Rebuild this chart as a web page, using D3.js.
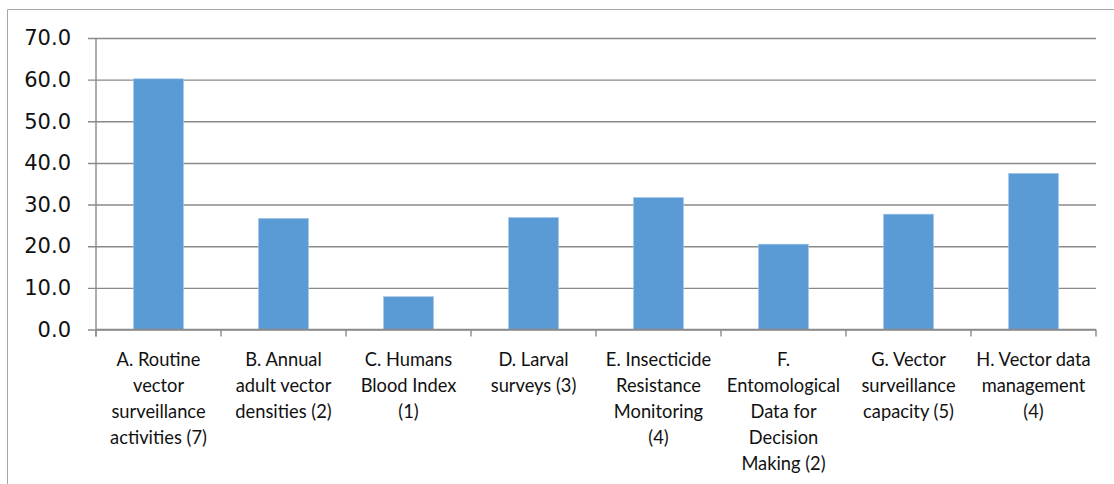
<!DOCTYPE html>
<html>
<head>
<meta charset="utf-8">
<script src="https://cdn.jsdelivr.net/npm/d3@7"></script>
<style>
  html, body { margin: 0; padding: 0; background: #fff; }
  svg { display: block; }
</style>
</head>
<body>
<svg id="chart" width="1114" height="484"></svg>
<script>
const categories = [
  "A. Routine\nvector\nsurveillance\nactivities (7)",
  "B. Annual\nadult vector\ndensities (2)",
  "C. Humans\nBlood Index\n(1)",
  "D. Larval\nsurveys (3)",
  "E. Insecticide\nResistance\nMonitoring\n(4)",
  "F.\nEntomological\nData for\nDecision\nMaking (2)",
  "G. Vector\nsurveillance\ncapacity (5)",
  "H. Vector data\nmanagement\n(4)"
];
const values = [60.2, 26.7, 7.9, 26.9, 31.7, 20.5, 27.7, 37.5];
const yTicks = [0, 10, 20, 30, 40, 50, 60, 70];

const svg = d3.select("#chart");
const W = 1114, H = 484;
const margin = { left: 96, right: 18, top: 38, bottom: 154.5 };
const plotW = W - margin.left - margin.right;
const plotH = H - margin.top - margin.bottom;

// outer frame (left + top)
svg.append("path")
  .attr("d", `M7.5,${H} L7.5,9.5 L${W},9.5`)
  .attr("fill", "none")
  .attr("stroke", "#a6a6a6")
  .attr("stroke-width", 1);

const g = svg.append("g").attr("transform", `translate(${margin.left},${margin.top})`);

const x = d3.scaleBand().domain(categories).range([0, plotW]).paddingInner(0.6).paddingOuter(0.3);
const y = d3.scaleLinear().domain([0, 70]).range([plotH, 0]);

// gridlines + y ticks
const yAxis = d3.axisLeft(y).tickValues(yTicks).tickSize(-plotW).tickSizeOuter(0).tickPadding(8)
  .tickFormat(d3.format(".1f"));
const ya = g.append("g").call(yAxis);
ya.select(".domain").remove();
ya.selectAll(".tick line")
  .attr("x1", -8)
  .attr("stroke", "#8a8a8a")
  .attr("stroke-width", 1.4);
ya.selectAll(".tick text")
  .attr("x", -25)
  .attr("font-family", "'DejaVu Sans', Verdana, sans-serif")
  .attr("font-size", 21)
  .attr("fill", "#111");

// y axis line
g.append("line")
  .attr("x1", 0).attr("x2", 0).attr("y1", y(70)).attr("y2", plotH + 7)
  .attr("stroke", "#8a8a8a").attr("stroke-width", 1.4);

// bars
g.selectAll("rect.bar").data(values).join("rect")
  .attr("class", "bar")
  .attr("x", (d, i) => x(categories[i]))
  .attr("width", x.bandwidth())
  .attr("y", d => y(d))
  .attr("height", d => y(0) - y(d))
  .attr("fill", "#5b9bd5")
  .attr("stroke", "#a9c8ea")
  .attr("stroke-width", 0.6);

// x axis baseline and category boundary ticks
g.append("line")
  .attr("x1", 0).attr("x2", plotW).attr("y1", plotH).attr("y2", plotH)
  .attr("stroke", "#8a8a8a").attr("stroke-width", 1.4);
const boundaries = d3.range(categories.length + 1).map(i => i * plotW / categories.length);
g.selectAll("line.xtick").data(boundaries).join("line")
  .attr("class", "xtick")
  .attr("x1", d => d).attr("x2", d => d)
  .attr("y1", plotH).attr("y2", plotH + 7)
  .attr("stroke", "#8a8a8a").attr("stroke-width", 1.4);

// category labels
const labels = g.selectAll("text.cat").data(categories).join("text")
  .attr("class", "cat")
  .attr("text-anchor", "middle")
  .attr("font-family", "Lato, 'Open Sans', sans-serif")
  .attr("font-size", 18.3)
  .attr("fill", "#111")
  .attr("transform", d => `translate(${x(d) + x.bandwidth() / 2},${plotH + 36})`);
labels.each(function(d) {
  const t = d3.select(this);
  d.split("\n").forEach((line, j) => {
    t.append("tspan").attr("x", 0).attr("y", j * 26).text(line);
  });
});
</script>
</body>
</html>
